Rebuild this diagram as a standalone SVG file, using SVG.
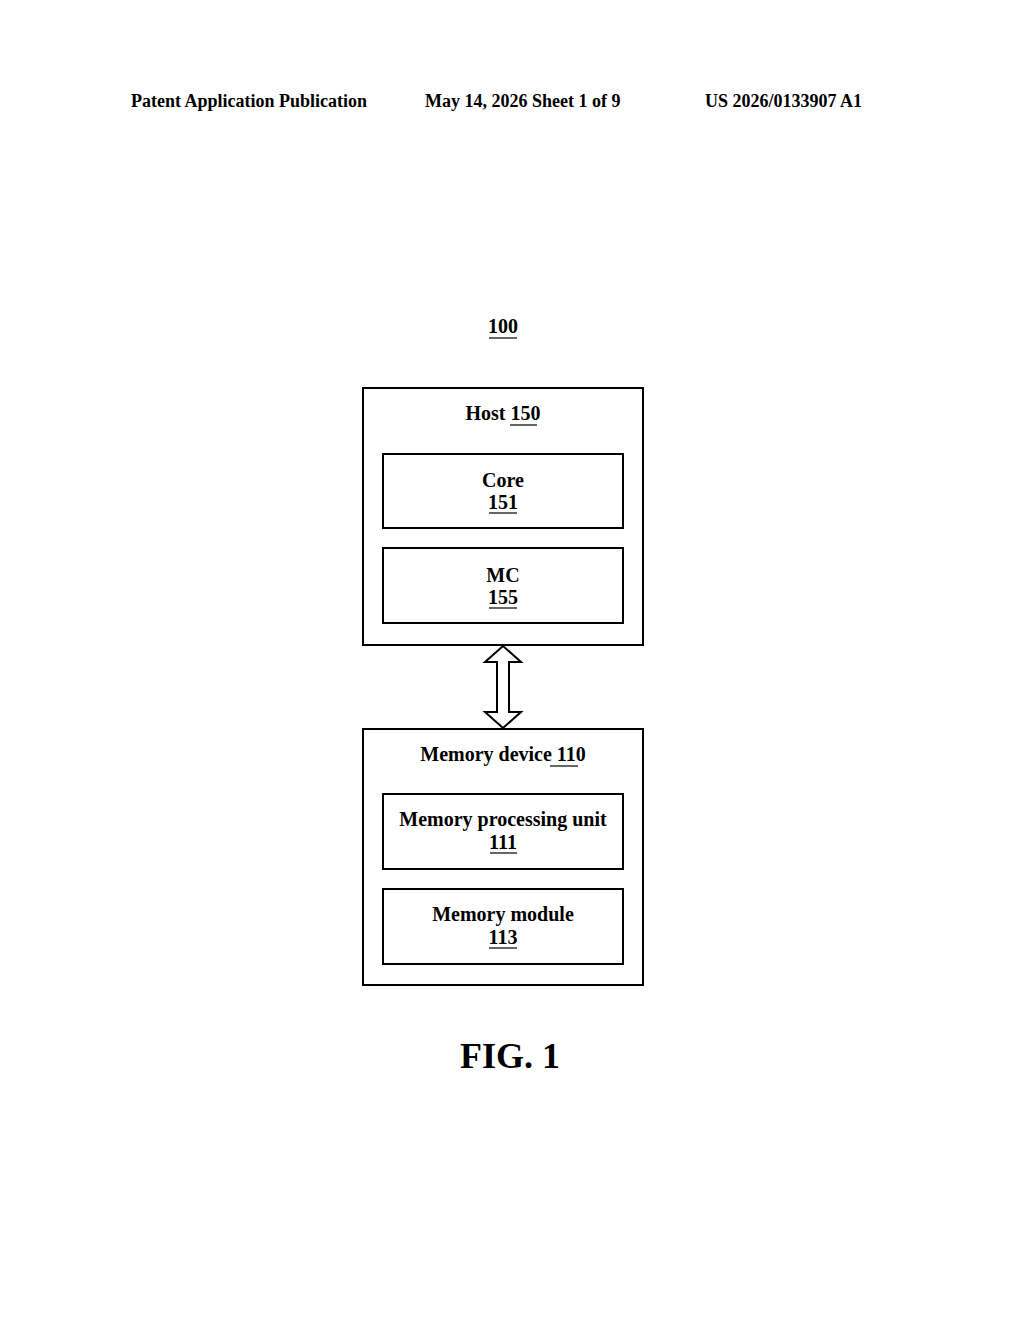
<svg xmlns="http://www.w3.org/2000/svg" width="1024" height="1320" viewBox="0 0 1024 1320">
<style>
text{font-family:"Liberation Serif",serif;font-weight:bold;fill:#000}
.h{font-size:18px}
.l{font-size:20px;text-anchor:middle}
.box{fill:#fff;stroke:#000;stroke-width:2}
.u{stroke:#000;stroke-width:1.2}
</style>
<rect width="1024" height="1320" fill="#fff"/>
<g id="header">
<text class="h" x="131" y="107">Patent Application Publication</text>
<text class="h" x="425" y="107">May 14, 2026  Sheet 1 of 9</text>
<text class="h" x="705" y="107">US 2026/0133907 A1</text>
</g>
<g id="label100"><text class="l" x="503" y="333">100</text><line class="u" x1="489" y1="338" x2="517" y2="338"/></g>
<g id="host150">
<rect class="box" x="363" y="388" width="280" height="257"/>
<text class="l" x="503" y="420">Host 150</text><line class="u" x1="510" y1="425" x2="537" y2="425"/>
</g>
<g id="core151">
<rect class="box" x="383" y="454" width="240" height="74"/>
<text class="l" x="503" y="487">Core</text><text class="l" x="503" y="509">151</text><line class="u" x1="489" y1="513" x2="517" y2="513"/>
</g>
<g id="mc155">
<rect class="box" x="383" y="548" width="240" height="75"/>
<text class="l" x="503" y="582">MC</text><text class="l" x="503" y="604">155</text><line class="u" x1="489" y1="608" x2="517" y2="608"/>
</g>
<g id="connectors">
<path d="M503 646 L521 662 L509 662 L509 712 L521 712 L503 728 L485 712 L497 712 L497 662 L485 662 Z" fill="#fff" stroke="#000" stroke-width="2" stroke-linejoin="miter"/>
</g>
<g id="memdev110">
<rect class="box" x="363" y="729" width="280" height="256"/>
<text class="l" x="503" y="761">Memory device 110</text><line class="u" x1="550" y1="766" x2="578" y2="766"/>
</g>
<g id="mpu111">
<rect class="box" x="383" y="794" width="240" height="75"/>
<text class="l" x="503" y="826">Memory processing unit</text><text class="l" x="503" y="849">111</text><line class="u" x1="490" y1="853" x2="517" y2="853"/>
</g>
<g id="mm113">
<rect class="box" x="383" y="889" width="240" height="75"/>
<text class="l" x="503" y="921">Memory module</text><text class="l" x="503" y="944">113</text><line class="u" x1="489" y1="948" x2="517" y2="948"/>
</g>
<g id="fig"><text x="510" y="1068" style="font-size:36px;text-anchor:middle">FIG. 1</text></g>
</svg>
